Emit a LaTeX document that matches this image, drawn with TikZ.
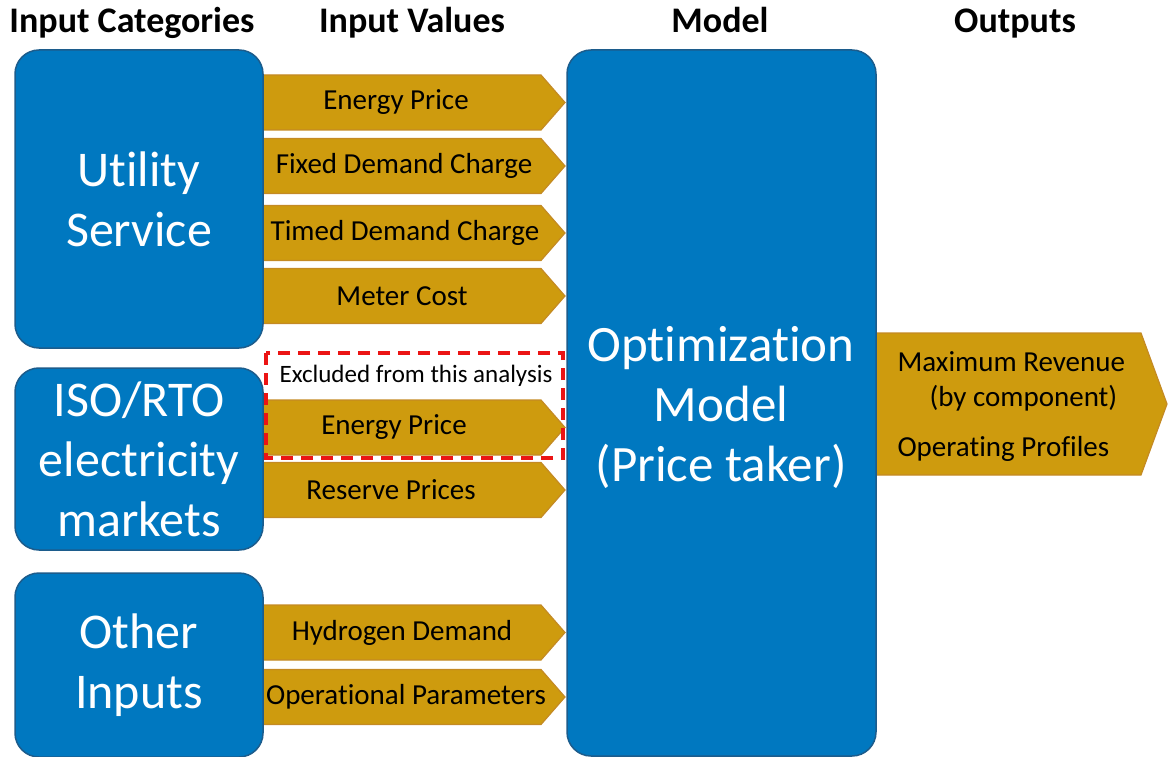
\documentclass[tikz,border=0pt]{standalone}
\usepackage{fontspec}
\setmainfont{Carlito}[Ligatures=NoCommon]
\definecolor{boxblue}{RGB}{0,120,192}
\definecolor{boxedge}{RGB}{28,92,140}
\definecolor{gold}{RGB}{206,155,14}
\definecolor{goldedge}{RGB}{196,138,36}
\definecolor{dashred}{RGB}{235,20,20}
\tikzset{
  catbox/.style={draw=boxedge, line width=1.5pt, fill=boxblue, rounded corners=24pt, text=white, align=center, font=\fontsize{50}{60}\selectfont},
  goldarrow/.style={draw=goldedge, line width=1.2pt, fill=gold},
  valtext/.style={font=\fontsize{29}{32}\selectfont, text=black},
  header/.style={font=\bfseries\fontsize{36}{40}\selectfont, anchor=base},
  outtext/.style={font=\fontsize{29}{32}\selectfont, anchor=west}
}
\begin{document}
\begin{tikzpicture}[x=1pt,y=-1pt]
\useasboundingbox (0,0) rectangle (1168,757);
\clip (0,0) rectangle (1168,757);
% headers
\node[header] (h1) at (132,33) {Input Categories};
\node[header] (h2) at (412,33) {Input Values};
\node[header] (h3) at (720,33) {Model};
\node[header] (h4) at (1015,33) {Outputs};
% input arrows
\foreach \c/\x/\n/\t in {102.5/396/a1/Energy Price, 166/404/a2/Fixed Demand Charge, 233/405/a3/Timed Demand Charge, 296/402/a4/Meter Cost, 427.5/394/a5/Energy Price, 490/391/a6/Reserve Prices, 632.5/402/a7/Hydrogen Demand, 697/406/a8/Operational Parameters}{
  \draw[goldarrow] (255,\c-27.5) -- (541,\c-27.5) -- (565,\c) -- (541,\c+27.5) -- (255,\c+27.5) -- cycle;
  \node[valtext] (\n) at (\x,\c) {\t};
}
% output arrow
\draw[goldarrow] (860,333) -- (1141,333) -- (1167,404) -- (1141,475) -- (860,475) -- cycle;
\node[outtext] (o1) at (894,362) {Maximum Revenue};
\node[outtext] (o2) at (926,398) {(by component)};
\node[outtext] (o3) at (894,449) {Operating Profiles};
% excluded box
\draw[dashred, line width=3.4pt, dash pattern=on 12pt off 8pt] (266,353) rectangle (563,458);
\node[font=\fontsize{25}{28}\selectfont] (ex) at (416,376) {Excluded from this analysis};
% category boxes
\node[catbox, minimum width=248, minimum height=298] (util) at (139,199) {Utility\\Service};
\node[catbox, minimum width=248, minimum height=182] (iso) at (139,459) {ISO/RTO\\electricity\\markets};
\node[catbox, minimum width=248, minimum height=184] (other) at (139,665) {Other\\Inputs};
% model box
\node[catbox, minimum width=309, minimum height=706] (model) at (721.5,403) {};
\node[text=white, align=center, font=\fontsize{51}{60}\selectfont] (mtext) at (721,407) {Optimization\\Model\\(Price taker)};
\end{tikzpicture}
\end{document}
